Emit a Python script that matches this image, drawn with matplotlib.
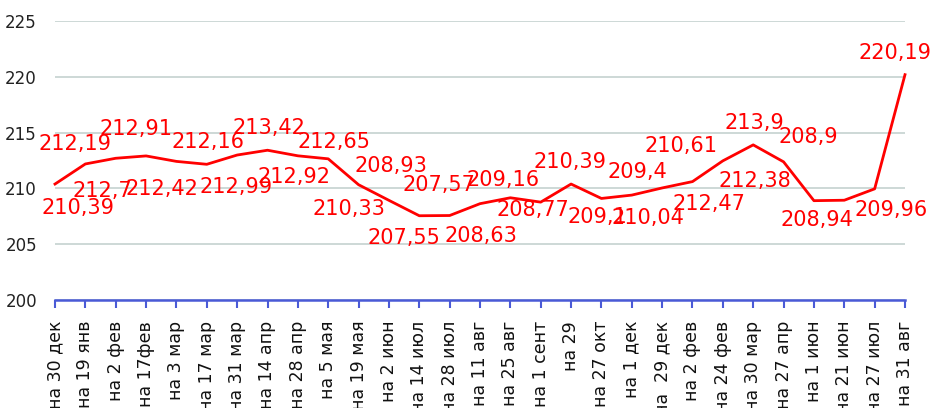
import matplotlib
matplotlib.use("Agg")
import matplotlib.pyplot as plt

categories = ["на 30 дек", "на 19 янв", "на 2 фев", "на 17фев", "на 3 мар", "на 17 мар",
              "на 31 мар", "на 14 апр", "на 28 апр", "на 5 мая", "на 19 мая", "на 2 июн",
              "на 14 июл", "на 28 июл", "на 11 авг", "на 25 авг", "на 1 сент", "на 29",
              "на 27 окт", "на 1 дек", "на  29 дек", "на 2 фев", "на 24 фев", "на 30 мар",
              "на 27 апр", "на 1 июн", "на 21 июн", "на 27 июл", "на 31 авг"]
values = [210.39, 212.19, 212.7, 212.91, 212.42, 212.16, 212.99, 213.42, 212.92, 212.65,
          210.33, 208.93, 207.55, 207.57, 208.63, 209.16, 208.77, 210.39, 209.1, 209.4,
          210.04, 210.61, 212.47, 213.9, 212.38, 208.9, 208.94, 209.96, 220.19]
y_ticks = [200, 205, 210, 215, 220, 225]

# label offsets (pixels) relative to each point
label_offsets = [(23, -24), (-10, 20), (-13, -33), (-10, 27), (-14, -28), (1, 22), (-1, -32),
                 (1, 22), (-4, -21), (6, 17), (-10, -24), (2, 34), (-15, -22), (-11, 31),
                 (1, -32), (-7, 18), (-8, -8), (-1, 22), (-4, -19), (6, 23), (-14, -30),
                 (-11, 36), (-14, -43), (1, 22), (-29, -19), (-6, 64), (-27, -20), (16, -21),
                 (-10, 22)]

fig = plt.figure(figsize=(9.32, 4.08), dpi=100)
ax = fig.add_axes([55/932, 1 - 300/408, (905 - 55)/932, (300 - 21)/408])

x = list(range(len(values)))
ax.plot(x, values, color="#ff0000", lw=2.0, zorder=3, clip_on=False)

for xi, v, (dx, dy) in zip(x, values, label_offsets):
    ax.annotate(f"{v:g}".replace(".", ","), (xi, v), xytext=(dx, dy),
                textcoords="offset pixels", ha="center", va="center",
                color="#ff0000", fontsize=15, zorder=4, annotation_clip=False)

ax.set_xlim(0, len(values) - 1)
ax.set_ylim(200, 225)
ax.set_yticks(y_ticks)
ax.set_yticklabels([str(t) for t in y_ticks], fontsize=12, color="#222222")
ax.set_xticks(x)
ax.set_xticklabels(categories, rotation=90, fontsize=12.5, color="#111111")
ax.tick_params(axis="y", length=0, pad=13)
ax.tick_params(axis="x", length=6, width=1.5, color="#4a5ad6", pad=9)

for s in ["top", "right", "left"]:
    ax.spines[s].set_visible(False)
ax.spines["bottom"].set_color("#4a5ad6")
ax.spines["bottom"].set_linewidth(1.8)

ax.grid(axis="y", color="#c5d2cf", lw=1.2)
ax.set_axisbelow(True)

fig.savefig("out.png", dpi=100)
